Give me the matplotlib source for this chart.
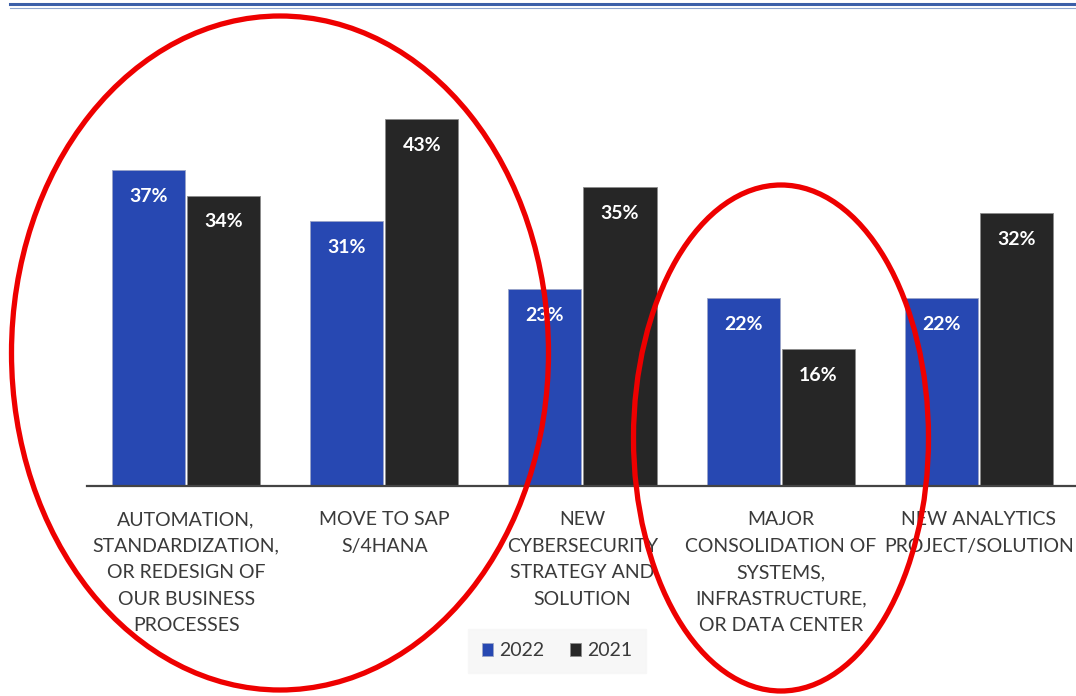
import numpy as np
import matplotlib.pyplot as plt
from matplotlib.patches import Ellipse
from matplotlib.lines import Line2D

categories = ['AUTOMATION,\nSTANDARDIZATION,\nOR REDESIGN OF\nOUR BUSINESS\nPROCESSES',
              'MOVE TO SAP\nS/4HANA',
              'NEW\nCYBERSECURITY\nSTRATEGY AND\nSOLUTION',
              'MAJOR\nCONSOLIDATION OF\nSYSTEMS,\nINFRASTRUCTURE,\nOR DATA CENTER',
              'NEW ANALYTICS\nPROJECT/SOLUTION']
vals_2022 = [37, 31, 23, 22, 22]
vals_2021 = [34, 43, 35, 16, 32]

blue = '#2748b2'
dark = '#262626'
W, H = 1076, 696

plt.rcParams['font.family'] = ['Lato', 'DejaVu Sans']
fig = plt.figure(figsize=(W / 100, H / 100), dpi=100)
# axes placed in pixel terms: left 87, right 1076, baseline 486, top 40
ax = fig.add_axes([87 / W, (H - 486) / H, (W - 87) / W, 446 / H])

x = np.arange(len(categories))
bw = 73 / 198
off = 37.5 / 198
b1 = ax.bar(x - off, vals_2022, bw, color=blue, edgecolor='#9aa4c8', linewidth=0.6, label='2022')
b2 = ax.bar(x + off, vals_2021, bw, color=dark, edgecolor='#8c8c8c', linewidth=0.6, label='2021')

for bars in (b1, b2):
    for r in bars:
        ax.text(r.get_x() + r.get_width() / 2, r.get_height() - 3.1, f'{r.get_height():.0f}%',
                ha='center', va='center', color='white', fontsize=14, fontweight='bold')

ax.set_xlim(-0.5, 4.49)
ax.set_ylim(0, 52.2)
ax.set_yticks([])
ax.set_xticks(x)
ax.set_xticklabels(categories, fontsize=14, color='#3a3a3a', linespacing=1.68, va='top')
ax.tick_params(axis='x', length=0, pad=18)
for s in ['top', 'right', 'left']:
    ax.spines[s].set_visible(False)
ax.spines['bottom'].set_color('#444444')
ax.spines['bottom'].set_linewidth(1.6)

leg = ax.legend(loc='center', bbox_to_anchor=(557 / W, 1 - 651 / H), bbox_transform=fig.transFigure,
                ncol=2, frameon=True, fontsize=14, handlelength=0.6, handleheight=0.6,
                handletextpad=0.3, columnspacing=1.3, borderpad=0.7, fancybox=False)
leg.get_frame().set_facecolor('#f6f6f6')
leg.get_frame().set_edgecolor('#f6f6f6')
for t in leg.get_texts():
    t.set_color('#3a3a3a')

# header rule at the very top
fig.add_artist(Line2D([10 / W, 1], [1 - 4 / H, 1 - 4 / H], transform=fig.transFigure,
                      color='#3b5fa8', linewidth=2.2))
fig.add_artist(Line2D([10 / W, 1], [1 - 8 / H, 1 - 8 / H], transform=fig.transFigure,
                      color='#8fa6cf', linewidth=0.8))

# red hand-drawn circles
fig.add_artist(Ellipse((280 / W, 1 - 353 / H), 537 / W, 674 / H, transform=fig.transFigure,
                       fill=False, edgecolor='#ee0000', linewidth=3.8))
fig.add_artist(Ellipse((781 / W, 1 - 438 / H), 295 / W, 506 / H, transform=fig.transFigure,
                       fill=False, edgecolor='#ee0000', linewidth=3.8))

plt.savefig('out.png', dpi=100)
